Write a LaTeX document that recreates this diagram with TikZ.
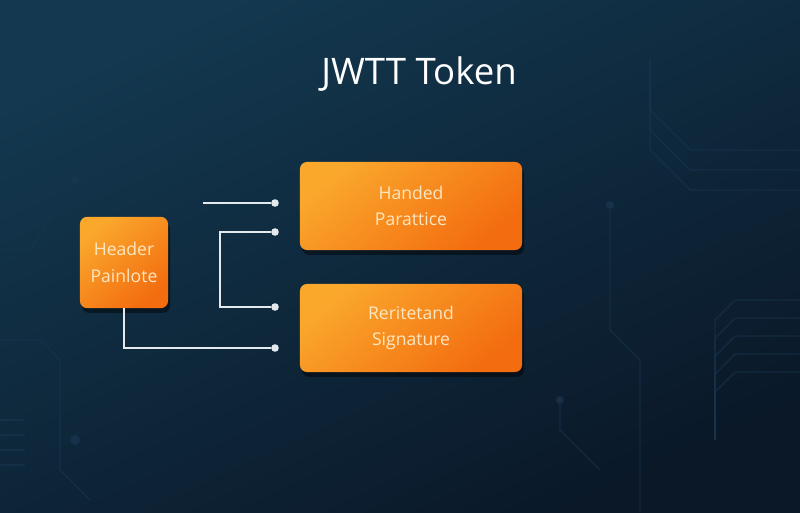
\documentclass[tikz,border=0pt]{standalone}
\usepackage{fontspec}
\setmainfont{Open Sans}
\usetikzlibrary{positioning, calc, shadows}

\definecolor{bgtop}{HTML}{13384F}
\definecolor{bgbot}{HTML}{0A1828}
\definecolor{trace}{HTML}{1A3650}
\definecolor{orangeA}{HTML}{FAA82C}
\definecolor{orangeB}{HTML}{F36C10}
\definecolor{boxtext}{HTML}{FDE7C2}
\definecolor{wire}{HTML}{E4E9EE}

\begin{document}
\begin{tikzpicture}[x=0.025cm, y=-0.025cm]

\tikzset{
  block/.style={rounded corners=5pt, top color=orangeA, bottom color=orangeB,
    shading angle=40, align=center, text=boxtext, font=\fontsize{12.5}{19}\selectfont,
    drop shadow={fill=black, opacity=0.45, shadow xshift=0.05cm, shadow yshift=-0.12cm}},
  pin/.style={circle, fill=wire, inner sep=0pt, minimum size=0.19cm},
  wirel/.style={draw=wire, line width=0.9pt},
  tracel/.style={draw=trace, line width=1pt, opacity=0.55},
}

% background
\shade[top color=bgtop, bottom color=bgbot, shading angle=25] (0,0) rectangle (800,512);
\useasboundingbox (0,0) rectangle (800,512);

% faint circuit traces
\foreach \yy in {300,318,336,354,372} {
  \draw[tracel] (800,\yy) -- (735,\yy) -- (715,\yy+20) -- (715,440);
}
\foreach \yy in {150,170,190} {
  \draw[tracel] (800,\yy) -- (690,\yy) -- (650,\yy-40) -- (650,60);
}
\draw[tracel] (610,210) -- (610,330) -- (640,360) -- (640,512);
\draw[tracel] (600,470) -- (560,430) -- (560,400);
\draw[tracel] (0,340) -- (40,340) -- (60,360) -- (60,470) -- (90,500);
\draw[tracel] (0,250) -- (30,250) -- (75,180);
\fill[trace, opacity=0.7] (75,180) circle (4);
\fill[trace, opacity=0.7] (75,440) circle (5);
\fill[trace, opacity=0.7] (610,205) circle (4);
\fill[trace, opacity=0.7] (560,400) circle (4);
\foreach \yy in {420,435,450,465} {
  \draw[tracel] (0,\yy) -- (25,\yy);
}

% title
\node[text=white, font=\fontsize{26}{30}\selectfont] (title) at (419,74) {JWTT Token};

% blocks
\node[block, minimum width=2.2cm, minimum height=2.28cm] (header) at (124,262.5) {Header\\Painlote};
\node[block, minimum width=5.55cm, minimum height=2.2cm] (payload) at (411,206) {Handed\\Parattice};
\node[block, minimum width=5.55cm, minimum height=2.2cm] (sig) at (411,328) {Reritetand\\Signature};

% pins
\node[pin] (p1) at (275,203) {};
\node[pin] (p2) at (275,232) {};
\node[pin] (p3) at (275,307) {};
\node[pin] (p4) at (275,348) {};
\coordinate (w1) at (203,203);

% wires
\draw[wirel] (w1) -- (p1);
\draw[wirel] (p2) -- (220,232) -- (220,307) -- (p3);
\draw[wirel] (header.south) -- (header.south |- p4) -- (p4);

\end{tikzpicture}
\end{document}
